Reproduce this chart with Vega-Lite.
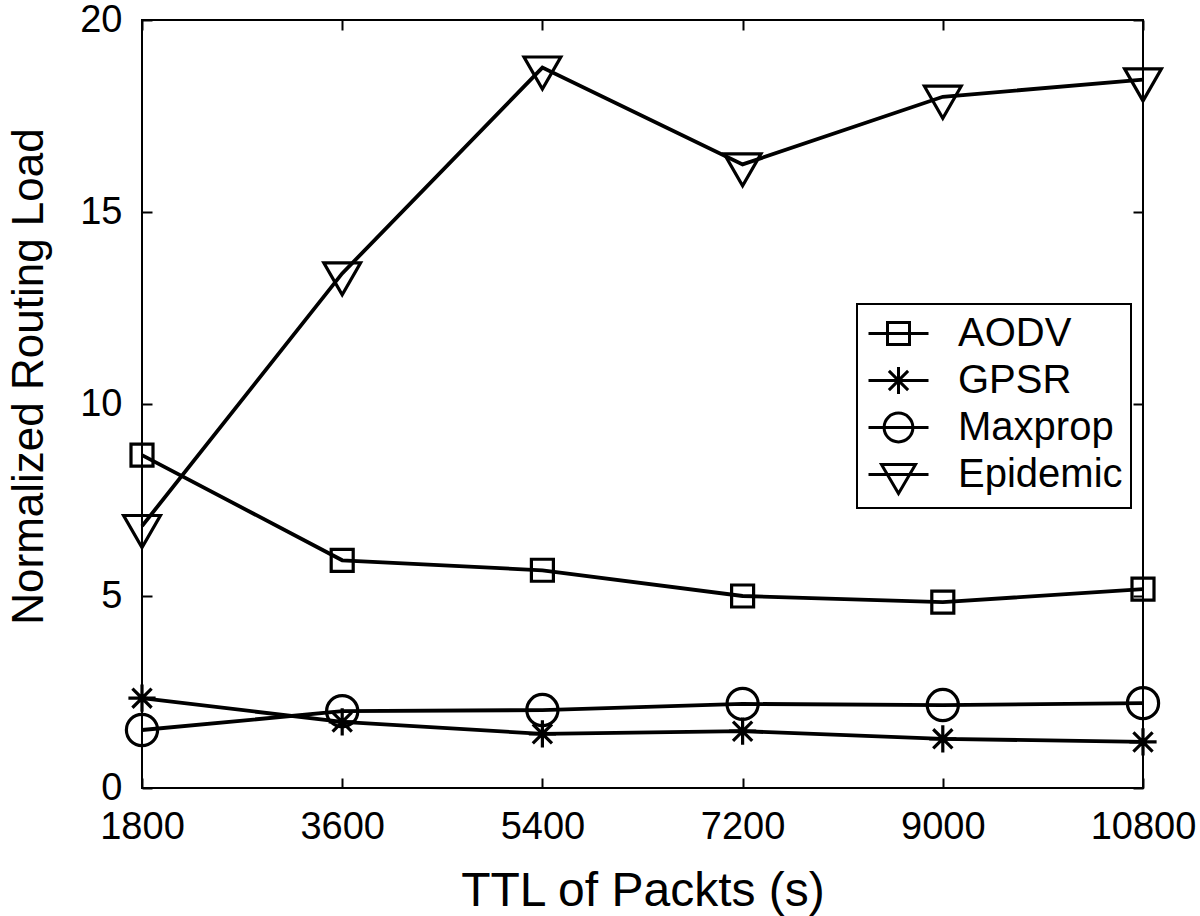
{
  "$schema": "https://vega.github.io/schema/vega-lite/v6.json",
  "width": 1001,
  "height": 768,
  "autosize": {"type": "none"},
  "padding": {"left": 142, "top": 20, "right": 57, "bottom": 128},
  "background": "white",
  "config": {
    "font": "Liberation Sans",
    "view": {"stroke": "black", "strokeWidth": 2},
    "axis": {"labelFont": "Liberation Sans", "titleFont": "Liberation Sans", "labelColor": "black", "titleColor": "black", "tickColor": "black", "tickWidth": 2, "grid": false, "domain": false},
    "legend": {"strokeWidth": 2}
  },
  "data": {
    "values": [
      {"series": "AODV", "ttl": 1800, "load": 8.67},
      {"series": "AODV", "ttl": 3600, "load": 5.93},
      {"series": "AODV", "ttl": 5400, "load": 5.67},
      {"series": "AODV", "ttl": 7200, "load": 5.0},
      {"series": "AODV", "ttl": 9000, "load": 4.84},
      {"series": "AODV", "ttl": 10800, "load": 5.18},
      {"series": "GPSR", "ttl": 1800, "load": 2.34},
      {"series": "GPSR", "ttl": 3600, "load": 1.72},
      {"series": "GPSR", "ttl": 5400, "load": 1.41},
      {"series": "GPSR", "ttl": 7200, "load": 1.48},
      {"series": "GPSR", "ttl": 9000, "load": 1.28},
      {"series": "GPSR", "ttl": 10800, "load": 1.2},
      {"series": "Maxprop", "ttl": 1800, "load": 1.51},
      {"series": "Maxprop", "ttl": 3600, "load": 2.0},
      {"series": "Maxprop", "ttl": 5400, "load": 2.03},
      {"series": "Maxprop", "ttl": 7200, "load": 2.19},
      {"series": "Maxprop", "ttl": 9000, "load": 2.16},
      {"series": "Maxprop", "ttl": 10800, "load": 2.21},
      {"series": "Epidemic", "ttl": 1800, "load": 6.82},
      {"series": "Epidemic", "ttl": 3600, "load": 13.4},
      {"series": "Epidemic", "ttl": 5400, "load": 18.76},
      {"series": "Epidemic", "ttl": 7200, "load": 16.24},
      {"series": "Epidemic", "ttl": 9000, "load": 18.0},
      {"series": "Epidemic", "ttl": 10800, "load": 18.45}
    ]
  },
  "layer": [
    {
      "mark": {"type": "line", "color": "black", "strokeWidth": 3.8},
      "encoding": {
        "x": {"field": "ttl", "type": "quantitative",
          "scale": {"domain": [1800, 10800], "nice": false, "zero": false},
          "axis": {"orient": "bottom", "values": [1800, 3600, 5400, 7200, 9000, 10800], "format": "d",
            "labelFontSize": 38, "labelBaseline": "alphabetic", "labelPadding": 60, "labelFlush": false, "labelOverlap": false,
            "tickSize": -10, "title": "TTL of Packts (s)", "titleFontSize": 48, "titleFontWeight": "normal",
            "titleBaseline": "alphabetic", "titleY": 117}},
        "y": {"field": "load", "type": "quantitative",
          "scale": {"domain": [0, 20], "nice": false},
          "axis": {"orient": "left", "values": [0, 5, 10, 15, 20], "labelFontSize": 38, "labelPadding": 30,
            "labelFlush": false, "labelOverlap": false, "tickSize": -10,
            "title": "Normalized Routing Load", "titleFontSize": 44, "titleFontWeight": "normal",
            "titleAngle": -90, "titleBaseline": "alphabetic", "titleAlign": "center", "titleX": -100, "titleY": 356}},
        "detail": {"field": "series", "type": "nominal"}
      }
    },
    {
      "mark": {"type": "point", "filled": false, "color": "black", "strokeWidth": 3.2, "size": 1600, "opacity": 1},
      "encoding": {
        "x": {"field": "ttl", "type": "quantitative",
          "axis": {"orient": "top", "values": [1800, 3600, 5400, 7200, 9000, 10800], "labels": false, "tickSize": -10, "title": null}},
        "y": {"field": "load", "type": "quantitative",
          "axis": {"orient": "right", "values": [0, 5, 10, 15, 20], "labels": false, "tickSize": -10, "title": null}},
        "shape": {"field": "series", "type": "nominal",
          "scale": {"domain": ["AODV", "GPSR", "Maxprop", "Epidemic"],
            "range": [
              "M-0.55,-0.55L0.55,-0.55L0.55,0.55L-0.55,0.55Z",
              "M0,-0.68L0,0.68M-0.68,0L0.68,0M-0.48,-0.48L0.48,0.48M-0.48,0.48L0.48,-0.48",
              "M0.78,0A0.78,0.78,0,1,1,-0.78,0A0.78,0.78,0,1,1,0.78,0Z",
              "M-0.92,-0.53L0.92,-0.53L0,1.07Z"
            ]},
          "legend": null}
      }
    },
    {
      "transform": [{"filter": "datum.ttl < 0"}],
      "mark": {"type": "point", "filled": false, "color": "black", "strokeWidth": 3, "size": 1600, "opacity": 1},
      "encoding": {
        "x": {"field": "ttl", "type": "quantitative", "axis": null},
        "y": {"field": "load", "type": "quantitative", "axis": null},
        "shape": {"field": "series", "type": "nominal",
          "scale": {"domain": ["AODV", "GPSR", "Maxprop", "Epidemic"],
            "range": [
              "M-1.5,0L1.5,0M-0.55,-0.55L0.55,-0.55L0.55,0.55L-0.55,0.55Z",
              "M-1.5,0L1.5,0M0,-0.68L0,0.68M-0.48,-0.48L0.48,0.48M-0.48,0.48L0.48,-0.48",
              "M-1.5,0L1.5,0M0.72,0A0.72,0.72,0,1,1,-0.72,0A0.72,0.72,0,1,1,0.72,0Z",
              "M-1.5,0L1.5,0M-0.85,-0.5L0.85,-0.5L0,0.95Z"
            ]},
          "legend": {"orient": "none", "legendX": 715, "legendY": 284, "title": null,
            "labelFontSize": 40, "labelColor": "black", "labelFont": "Liberation Sans", "labelLimit": 400,
            "strokeColor": "black", "fillColor": "white", "padding": 8,
            "symbolSize": 1600, "symbolStrokeWidth": 3, "symbolStrokeColor": "black", "symbolFillColor": "transparent",
            "symbolOpacity": 1, "rowPadding": 5, "labelOffset": 38, "symbolOffset": 12}}
      }
    }
  ],
  "resolve": {"axis": {"x": "independent", "y": "independent"}, "scale": {"shape": "independent"}}
}
